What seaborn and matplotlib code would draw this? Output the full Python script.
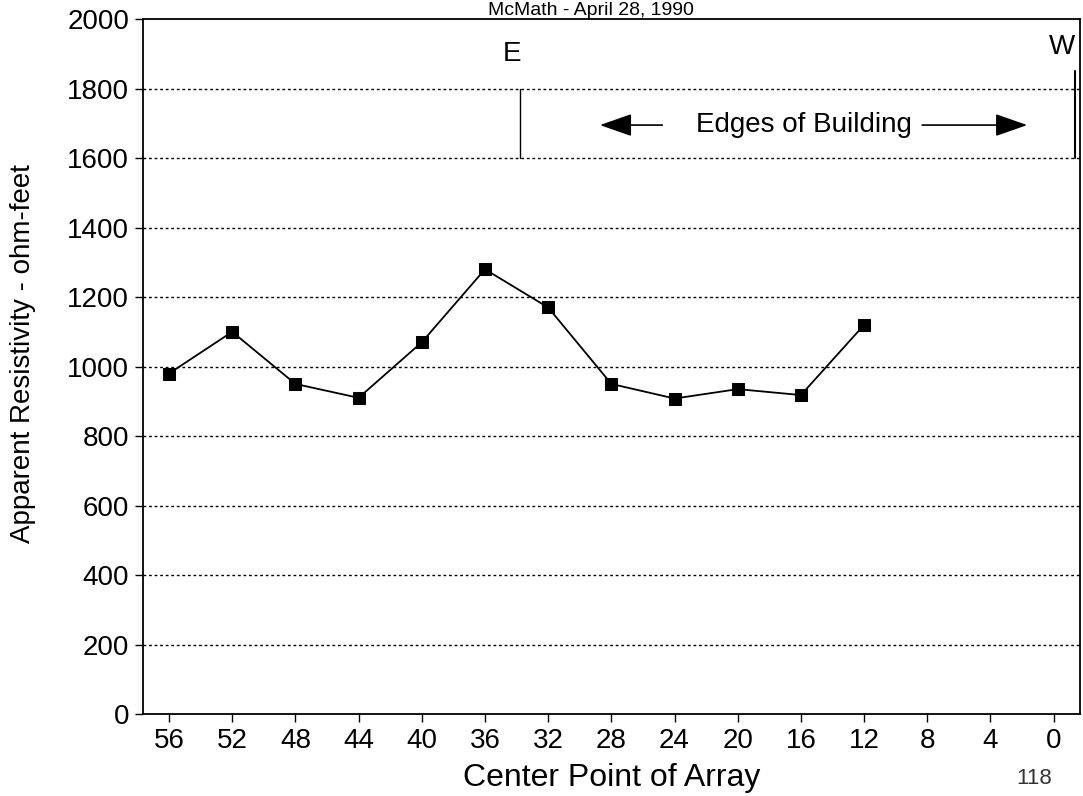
import numpy as np
import pandas as pd
import matplotlib
matplotlib.use("Agg")
import matplotlib.pyplot as plt
import seaborn as sns

# data
center_points = [56, 52, 48, 44, 40, 36, 32, 28, 24, 20, 16, 12]
resistivity = [980, 1100, 950, 910, 1070, 1280, 1170, 950, 908, 935, 918, 1120]
x_ticks = [56, 52, 48, 44, 40, 36, 32, 28, 24, 20, 16, 12, 8, 4, 0]
y_ticks = [0, 200, 400, 600, 800, 1000, 1200, 1400, 1600, 1800, 2000]
edge_east = 33.8
edge_west = -1.35

df = pd.DataFrame({"center": center_points, "rho": resistivity})

sns.set_theme(style="ticks")
plt.rcParams["font.family"] = ["Liberation Sans", "DejaVu Sans"]
plt.rcParams["font.size"] = 20
plt.rcParams["text.color"] = "black"
plt.rcParams["axes.labelcolor"] = "black"

fig = plt.figure(figsize=(10.83, 7.96), dpi=100)
ax = fig.add_axes([0.132, 0.103, 0.865, 0.873])

sns.lineplot(data=df, x="center", y="rho", ax=ax, color="black", lw=1.3,
             marker="s", markersize=8, markeredgecolor="black")

ax.set_xlim(57.65, -1.65)
ax.set_ylim(0, 2000)
ax.set_xticks(x_ticks)
ax.set_yticks(y_ticks)
ax.tick_params(axis="both", labelsize=20, color="black", labelcolor="black",
               length=6, width=1, direction="out", pad=4)
for s in ax.spines.values():
    s.set_color("black")
    s.set_linewidth(1.3)

# dotted grid
for yv in y_ticks[1:-1]:
    ax.axhline(yv, color="black", lw=1, ls=(0, (2, 2)), zorder=0)

ax.set_xlabel("Center Point of Array", fontsize=23)
ax.set_ylabel("Apparent Resistivity - ohm-feet", fontsize=20)
ax.xaxis.set_label_coords(0.5, -0.07)
ax.yaxis.set_label_coords(-0.114, 0.518)

# building edges
ax.plot([edge_east, edge_east], [1600, 1800], color="black", lw=1)
ax.plot([edge_west, edge_west], [1600, 1850], color="black", lw=1.5)
ax.text(edge_east + 0.5, 1900, "E", ha="center", va="center", fontsize=20)
ax.text(edge_west + 0.8, 1920, "W", ha="center", va="center", fontsize=20)
ax.text(15.8, 1695, "Edges of Building", ha="center", va="center", fontsize=20)
ax.annotate("", xy=(28.9, 1695), xytext=(24.6, 1695),
            arrowprops=dict(arrowstyle="-|>,head_length=1.0,head_width=0.35",
                            color="black", lw=1.2))
ax.annotate("", xy=(1.5, 1695), xytext=(8.5, 1695),
            arrowprops=dict(arrowstyle="-|>,head_length=1.0,head_width=0.35",
                            color="black", lw=1.2))

# title, squeezed above the frame (cut off in the scan)
fig.text(0.546, 1 - 15 / 796, "McMath - April 28, 1990", ha="center",
         va="baseline", fontsize=14)
fig.text(0.955, 1 - 778 / 796, "118", ha="center", va="center",
         fontsize=16, color="#333333")

fig.savefig("out.png", dpi=100)
